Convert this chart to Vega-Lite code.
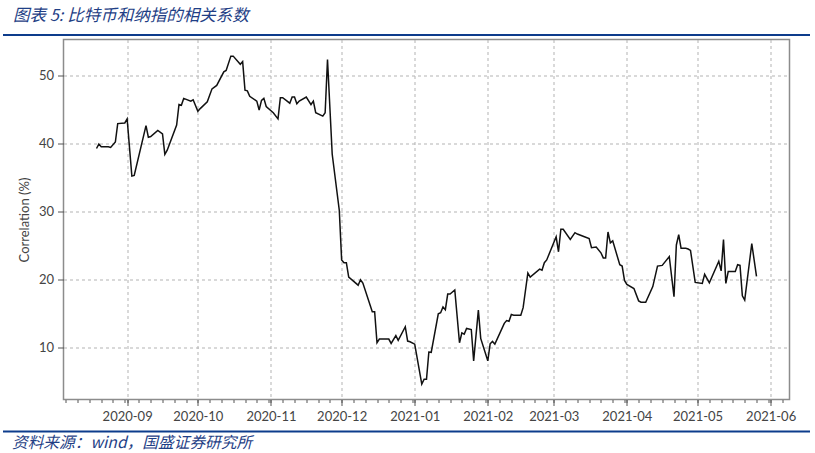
{
  "$schema": "https://vega.github.io/schema/vega-lite/v6.json",
  "background": "white",
  "padding": {"left": 3, "top": 7, "right": 5, "bottom": 0},
  "config": {
    "view": {"stroke": "#8c8c8c", "strokeWidth": 1.5},
    "font": "Lato"
  },
  "spacing": 5.5,
  "vconcat": [
    {
      "spacing": 2.5,
      "vconcat": [
        {
          "width": 807,
          "height": 2,
          "title": {"text": "图表 5: 比特币和纳指的相关系数", "anchor": "start", "frame": "group", "fontSize": 16.5, "fontStyle": "italic", "font": "Noto Sans CJK SC", "color": "#1f3f86", "fontWeight": "normal", "offset": -6, "baseline": "bottom", "dx": 10},
          "view": {"stroke": null},
          "data": {"values": [{}]},
          "mark": {"type": "rect", "color": "#0d3c8c"},
          "encoding": {}
        },
        {
          "spacing": 13.5,
          "hconcat": [
            {
              "width": 1,
              "height": 360,
              "view": {"stroke": null},
              "data": {"values": [{}]},
              "mark": {"type": "rect", "opacity": 0},
              "encoding": {}
            },
            {
              "width": 726,
              "height": 360,
              "data": {"values": [
                {"date": "2020-08-19", "corr": 39.25},
                {"date": "2020-08-20", "corr": 39.9},
                {"date": "2020-08-21", "corr": 39.5},
                {"date": "2020-08-24", "corr": 39.5},
                {"date": "2020-08-25", "corr": 39.4},
                {"date": "2020-08-27", "corr": 40.2},
                {"date": "2020-08-28", "corr": 42.9},
                {"date": "2020-08-31", "corr": 43.0},
                {"date": "2020-09-01", "corr": 43.6},
                {"date": "2020-09-03", "corr": 35.2},
                {"date": "2020-09-04", "corr": 35.3},
                {"date": "2020-09-09", "corr": 42.6},
                {"date": "2020-09-10", "corr": 40.9},
                {"date": "2020-09-11", "corr": 41.0},
                {"date": "2020-09-14", "corr": 41.9},
                {"date": "2020-09-16", "corr": 41.4},
                {"date": "2020-09-17", "corr": 38.4},
                {"date": "2020-09-18", "corr": 39.0},
                {"date": "2020-09-22", "corr": 42.7},
                {"date": "2020-09-23", "corr": 45.7},
                {"date": "2020-09-24", "corr": 45.6},
                {"date": "2020-09-25", "corr": 46.6},
                {"date": "2020-09-28", "corr": 46.2},
                {"date": "2020-09-29", "corr": 46.4},
                {"date": "2020-10-01", "corr": 44.7},
                {"date": "2020-10-02", "corr": 45.1},
                {"date": "2020-10-05", "corr": 46.1},
                {"date": "2020-10-07", "corr": 48.0},
                {"date": "2020-10-09", "corr": 48.5},
                {"date": "2020-10-12", "corr": 50.5},
                {"date": "2020-10-13", "corr": 50.7},
                {"date": "2020-10-15", "corr": 52.8},
                {"date": "2020-10-16", "corr": 52.8},
                {"date": "2020-10-19", "corr": 51.6},
                {"date": "2020-10-20", "corr": 52.0},
                {"date": "2020-10-21", "corr": 47.8},
                {"date": "2020-10-22", "corr": 47.7},
                {"date": "2020-10-23", "corr": 46.9},
                {"date": "2020-10-26", "corr": 46.2},
                {"date": "2020-10-27", "corr": 44.9},
                {"date": "2020-10-28", "corr": 46.3},
                {"date": "2020-10-29", "corr": 46.6},
                {"date": "2020-10-30", "corr": 45.4},
                {"date": "2020-11-02", "corr": 44.5},
                {"date": "2020-11-04", "corr": 43.6},
                {"date": "2020-11-05", "corr": 46.7},
                {"date": "2020-11-06", "corr": 46.7},
                {"date": "2020-11-09", "corr": 45.9},
                {"date": "2020-11-10", "corr": 46.8},
                {"date": "2020-11-11", "corr": 46.8},
                {"date": "2020-11-12", "corr": 45.8},
                {"date": "2020-11-13", "corr": 46.2},
                {"date": "2020-11-16", "corr": 46.8},
                {"date": "2020-11-18", "corr": 45.7},
                {"date": "2020-11-19", "corr": 46.2},
                {"date": "2020-11-20", "corr": 44.5},
                {"date": "2020-11-23", "corr": 44.0},
                {"date": "2020-11-24", "corr": 44.5},
                {"date": "2020-11-25", "corr": 52.3},
                {"date": "2020-11-27", "corr": 38.4},
                {"date": "2020-11-30", "corr": 30.2},
                {"date": "2020-12-01", "corr": 22.9},
                {"date": "2020-12-02", "corr": 22.5},
                {"date": "2020-12-03", "corr": 22.5},
                {"date": "2020-12-04", "corr": 20.4},
                {"date": "2020-12-08", "corr": 19.2},
                {"date": "2020-12-09", "corr": 20.0},
                {"date": "2020-12-10", "corr": 19.5},
                {"date": "2020-12-14", "corr": 15.3},
                {"date": "2020-12-15", "corr": 15.3},
                {"date": "2020-12-16", "corr": 10.75},
                {"date": "2020-12-17", "corr": 11.3},
                {"date": "2020-12-21", "corr": 11.3},
                {"date": "2020-12-22", "corr": 10.65},
                {"date": "2020-12-24", "corr": 11.8},
                {"date": "2020-12-25", "corr": 11.1},
                {"date": "2020-12-28", "corr": 13.1},
                {"date": "2020-12-29", "corr": 11.0},
                {"date": "2020-12-30", "corr": 10.9},
                {"date": "2021-01-01", "corr": 10.55},
                {"date": "2021-01-04", "corr": 4.7},
                {"date": "2021-01-05", "corr": 5.4},
                {"date": "2021-01-06", "corr": 5.4},
                {"date": "2021-01-07", "corr": 9.4},
                {"date": "2021-01-08", "corr": 9.35},
                {"date": "2021-01-11", "corr": 15.0},
                {"date": "2021-01-12", "corr": 15.15},
                {"date": "2021-01-13", "corr": 16.0},
                {"date": "2021-01-14", "corr": 15.6},
                {"date": "2021-01-15", "corr": 17.9},
                {"date": "2021-01-16", "corr": 17.9},
                {"date": "2021-01-18", "corr": 18.5},
                {"date": "2021-01-20", "corr": 10.75},
                {"date": "2021-01-21", "corr": 12.2},
                {"date": "2021-01-22", "corr": 12.0},
                {"date": "2021-01-23", "corr": 12.85},
                {"date": "2021-01-25", "corr": 12.7},
                {"date": "2021-01-26", "corr": 8.1},
                {"date": "2021-01-28", "corr": 15.55},
                {"date": "2021-01-29", "corr": 11.4},
                {"date": "2021-02-01", "corr": 8.1},
                {"date": "2021-02-02", "corr": 10.6},
                {"date": "2021-02-03", "corr": 10.95},
                {"date": "2021-02-04", "corr": 10.55},
                {"date": "2021-02-08", "corr": 13.6},
                {"date": "2021-02-09", "corr": 14.0},
                {"date": "2021-02-10", "corr": 13.9},
                {"date": "2021-02-11", "corr": 14.9},
                {"date": "2021-02-12", "corr": 14.8},
                {"date": "2021-02-15", "corr": 14.8},
                {"date": "2021-02-16", "corr": 15.9},
                {"date": "2021-02-18", "corr": 21.0},
                {"date": "2021-02-19", "corr": 20.4},
                {"date": "2021-02-23", "corr": 21.55},
                {"date": "2021-02-24", "corr": 21.4},
                {"date": "2021-02-25", "corr": 22.5},
                {"date": "2021-02-26", "corr": 22.9},
                {"date": "2021-03-02", "corr": 26.3},
                {"date": "2021-03-03", "corr": 24.1},
                {"date": "2021-03-04", "corr": 27.4},
                {"date": "2021-03-05", "corr": 27.4},
                {"date": "2021-03-08", "corr": 25.9},
                {"date": "2021-03-10", "corr": 26.9},
                {"date": "2021-03-11", "corr": 26.7},
                {"date": "2021-03-14", "corr": 26.3},
                {"date": "2021-03-16", "corr": 26.05},
                {"date": "2021-03-17", "corr": 24.7},
                {"date": "2021-03-19", "corr": 24.8},
                {"date": "2021-03-21", "corr": 23.95},
                {"date": "2021-03-22", "corr": 23.2},
                {"date": "2021-03-23", "corr": 23.2},
                {"date": "2021-03-24", "corr": 27.0},
                {"date": "2021-03-25", "corr": 25.4},
                {"date": "2021-03-26", "corr": 25.7},
                {"date": "2021-03-29", "corr": 22.2},
                {"date": "2021-03-30", "corr": 22.0},
                {"date": "2021-03-31", "corr": 19.9},
                {"date": "2021-04-01", "corr": 19.3},
                {"date": "2021-04-04", "corr": 18.7},
                {"date": "2021-04-06", "corr": 16.9},
                {"date": "2021-04-07", "corr": 16.7},
                {"date": "2021-04-09", "corr": 16.7},
                {"date": "2021-04-12", "corr": 19.0},
                {"date": "2021-04-14", "corr": 22.0},
                {"date": "2021-04-16", "corr": 22.1},
                {"date": "2021-04-19", "corr": 23.4},
                {"date": "2021-04-21", "corr": 17.5},
                {"date": "2021-04-22", "corr": 25.1},
                {"date": "2021-04-23", "corr": 26.6},
                {"date": "2021-04-24", "corr": 24.6},
                {"date": "2021-04-26", "corr": 24.6},
                {"date": "2021-04-27", "corr": 24.5},
                {"date": "2021-04-28", "corr": 24.3},
                {"date": "2021-04-30", "corr": 19.6},
                {"date": "2021-05-03", "corr": 19.45},
                {"date": "2021-05-04", "corr": 20.8},
                {"date": "2021-05-06", "corr": 19.55},
                {"date": "2021-05-10", "corr": 22.7},
                {"date": "2021-05-11", "corr": 21.3},
                {"date": "2021-05-12", "corr": 25.9},
                {"date": "2021-05-13", "corr": 19.45},
                {"date": "2021-05-14", "corr": 21.2},
                {"date": "2021-05-17", "corr": 21.2},
                {"date": "2021-05-18", "corr": 22.2},
                {"date": "2021-05-19", "corr": 22.1},
                {"date": "2021-05-20", "corr": 17.65},
                {"date": "2021-05-21", "corr": 17.0},
                {"date": "2021-05-24", "corr": 25.3},
                {"date": "2021-05-26", "corr": 20.5}
              ]},
              "layer": [
                {
                  "mark": {"type": "line", "color": "#111111", "strokeWidth": 1.5},
                  "encoding": {
                    "x": {
                      "field": "date", "type": "temporal",
                      "scale": {"type": "utc", "domain": [{"year": 2020, "month": 8, "date": 5, "utc": true}, {"year": 2021, "month": 6, "date": 9, "utc": true}]},
                      "axis": {"orient": "bottom", "tickCount": {"interval": "month", "step": 1}, "labelExpr": "utcFormat(datum.value, '%Y-%m')", "grid": true, "gridDash": [3, 3], "gridColor": "#b3b3b3", "gridWidth": 1, "tickSize": 6, "tickColor": "#555555", "tickWidth": 1, "domain": false, "labelFontSize": 13, "labelFont": "Lato", "labelColor": "#444444", "labelPadding": 5, "labelOverlap": false, "title": null}
                    },
                    "y": {
                      "field": "corr", "type": "quantitative",
                      "scale": {"domain": [2.43, 55.24], "nice": false, "zero": false},
                      "axis": {"values": [10, 20, 30, 40, 50], "grid": true, "gridDash": [3, 3], "gridColor": "#b3b3b3", "gridWidth": 1, "tickSize": 6, "tickColor": "#555555", "domain": false, "labelFontSize": 13, "labelFont": "Lato", "labelColor": "#444444", "labelPadding": 4, "title": "Correlation (%)", "titleFontSize": 13, "titleFont": "Lato", "titleFontWeight": "normal", "titleColor": "#444444", "titlePadding": 7}
                    }
                  }
                },
                {
                  "mark": {"type": "line", "opacity": 0},
                  "encoding": {
                    "x": {
                      "field": "date", "type": "temporal",
                      "axis": {"orient": "bottom", "tickCount": {"interval": "day", "step": 5}, "labels": false, "grid": false, "domain": false, "tickSize": 3, "tickColor": "#555555", "tickWidth": 1, "title": null}
                    },
                    "y": {"field": "corr", "type": "quantitative"}
                  }
                }
              ],
              "resolve": {"axis": {"x": "independent"}}
            }
          ]
        }
      ]
    },
    {
      "width": 807,
      "height": 2,
      "title": {"text": "资料来源：wind，国盛证券研究所", "orient": "bottom", "anchor": "start", "frame": "group", "fontSize": 15.7, "fontStyle": "italic", "font": "Noto Sans CJK SC", "color": "#1f3f86", "fontWeight": "normal", "offset": 3, "baseline": "top", "dx": 9},
      "view": {"stroke": null},
      "data": {"values": [{}]},
      "mark": {"type": "rect", "color": "#0d3c8c"},
      "encoding": {}
    }
  ]
}
